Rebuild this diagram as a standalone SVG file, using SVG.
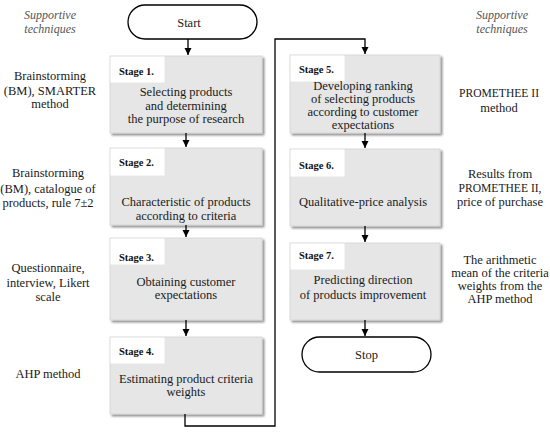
<svg xmlns="http://www.w3.org/2000/svg" width="550" height="433" viewBox="0 0 550 433">
<defs>
<marker id="ah" markerWidth="8" markerHeight="8" refX="7" refY="4" orient="auto" markerUnits="userSpaceOnUse">
<path d="M0,0.5 L7,4 L0,7.5 Z" fill="#000"/>
</marker>
<filter id="sh" x="-5%" y="-5%" width="115%" height="115%">
<feGaussianBlur in="SourceAlpha" stdDeviation="1.2"/>
<feOffset dx="1.5" dy="1.5" result="b"/>
<feComponentTransfer><feFuncA type="linear" slope="0.45"/></feComponentTransfer>
<feMerge><feMergeNode/><feMergeNode in="SourceGraphic"/></feMerge>
</filter>
</defs>
<style>
.box{fill:#e6e6e6;stroke:#d2d2d2;stroke-width:0.8;filter:url(#sh)}
.lab{fill:#fff}
.term{fill:#fff;stroke:#000;stroke-width:1.3}
.t{font-family:"Liberation Serif","Times New Roman",serif;font-size:12.5px;fill:#1a1a1a;text-anchor:middle}
.s{font-family:"Liberation Serif","Times New Roman",serif;font-size:10.5px;font-weight:bold;fill:#111}
.sup{font-family:"Liberation Serif","Times New Roman",serif;font-size:12px;font-style:italic;fill:#555;text-anchor:middle}
.c{fill:none;stroke:#000;stroke-width:1.3}
</style>

<g id="sup-left"><text class="sup" x="50" y="19">Supportive</text><text class="sup" x="50" y="33">techniques</text></g>
<g id="sup-right"><text class="sup" x="502" y="19">Supportive</text><text class="sup" x="502" y="33">techniques</text></g>

<g id="start"><rect class="term" x="128" y="5" width="129" height="34" rx="17"/><text class="t" x="189" y="26.5">Start</text></g>

<g id="stage1">
<rect class="box" x="110" y="56" width="152" height="77"/>
<rect class="lab" x="110.5" y="56.5" width="54" height="26"/>
<text class="s" x="119" y="75">Stage 1.</text>
<text class="t" x="186" y="96">Selecting products</text>
<text class="t" x="186" y="110">and determining</text>
<text class="t" x="186" y="123">the purpose of research</text>
</g>
<g id="tech1"><text class="t" x="50" y="80">Brainstorming</text><text class="t" x="50" y="95">(BM), SMARTER</text><text class="t" x="50" y="108">method</text></g>

<g id="stage2">
<rect class="box" x="110" y="148" width="152" height="77"/>
<rect class="lab" x="110.5" y="148.5" width="54" height="27"/>
<text class="s" x="119" y="166">Stage 2.</text>
<text class="t" x="186" y="206">Characteristic of products</text>
<text class="t" x="186" y="220">according to criteria</text>
</g>
<g id="tech2"><text class="t" x="48" y="177">Brainstorming</text><text class="t" x="48" y="193">(BM), catalogue of</text><text class="t" x="48" y="207">products, rule 7±2</text></g>

<g id="stage3">
<rect class="box" x="110" y="238" width="152" height="82"/>
<rect class="lab" x="110.5" y="238.5" width="54" height="26"/>
<text class="s" x="119" y="261">Stage 3.</text>
<text class="t" x="186" y="286">Obtaining customer</text>
<text class="t" x="186" y="299">expectations</text>
</g>
<g id="tech3"><text class="t" x="48" y="272">Questionnaire,</text><text class="t" x="48" y="287">interview, Likert</text><text class="t" x="48" y="301">scale</text></g>

<g id="stage4">
<rect class="box" x="110" y="337" width="152" height="77"/>
<rect class="lab" x="110.5" y="337.5" width="54" height="26"/>
<text class="s" x="119" y="355">Stage 4.</text>
<text class="t" x="186" y="383">Estimating product criteria</text>
<text class="t" x="186" y="396">weights</text>
</g>
<g id="tech4"><text class="t" x="48" y="378">AHP method</text></g>

<g id="stage5">
<rect class="box" x="290" y="55" width="150" height="78"/>
<rect class="lab" x="290.5" y="55.5" width="54" height="26"/>
<text class="s" x="299" y="73">Stage 5.</text>
<text class="t" x="363" y="90">Developing ranking</text>
<text class="t" x="363" y="103">of selecting products</text>
<text class="t" x="363" y="116">according to customer</text>
<text class="t" x="363" y="129">expectations</text>
</g>
<g id="tech5"><text class="t" x="499" y="97" textLength="80" lengthAdjust="spacingAndGlyphs">PROMETHEE II</text><text class="t" x="499" y="112">method</text></g>

<g id="stage6">
<rect class="box" x="290" y="149" width="150" height="77"/>
<rect class="lab" x="290.5" y="149.5" width="54" height="27"/>
<text class="s" x="299" y="169">Stage 6.</text>
<text class="t" x="363" y="206">Qualitative-price analysis</text>
</g>
<g id="tech6"><text class="t" x="500" y="178">Results from</text><text class="t" x="500" y="192" textLength="83" lengthAdjust="spacingAndGlyphs">PROMETHEE II,</text><text class="t" x="500" y="206">price of purchase</text></g>

<g id="stage7">
<rect class="box" x="290" y="243" width="150" height="77"/>
<rect class="lab" x="290.5" y="243.5" width="54" height="26"/>
<text class="s" x="299" y="259">Stage 7.</text>
<text class="t" x="363" y="284">Predicting direction</text>
<text class="t" x="363" y="299">of products improvement</text>
</g>
<g id="tech7"><text class="t" x="500" y="264">The arithmetic</text><text class="t" x="500" y="277">mean of the criteria</text><text class="t" x="500" y="290">weights from the</text><text class="t" x="500" y="303">AHP method</text></g>

<g id="stop"><rect class="term" x="302" y="337" width="129" height="35" rx="17.5"/><text class="t" x="366.5" y="359">Stop</text></g>

<g id="connectors">
<path class="c" d="M188,39 V55" marker-end="url(#ah)"/>
<path class="c" d="M186,133 V147" marker-end="url(#ah)"/>
<path class="c" d="M186,225 V237" marker-end="url(#ah)"/>
<path class="c" d="M186,320 V336" marker-end="url(#ah)"/>
<path class="c" d="M185,414 V426 H275 V39 H365 V54" marker-end="url(#ah)"/>
<path class="c" d="M365,133 V148" marker-end="url(#ah)"/>
<path class="c" d="M365,226 V242" marker-end="url(#ah)"/>
<path class="c" d="M365,320 V336" marker-end="url(#ah)"/>
</g>
</svg>
